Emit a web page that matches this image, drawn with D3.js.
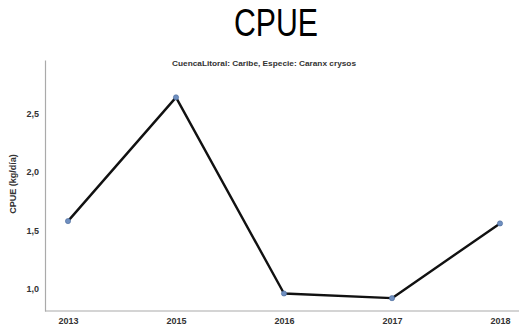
<!DOCTYPE html>
<html><head><meta charset="utf-8">
<script src="https://cdn.jsdelivr.net/npm/d3@7"></script>
<style>body{margin:0;background:#fff}svg{display:block}</style>
</head><body>
<script>
const years = ["2013","2015","2016","2017","2018"];
const cpue = [1.58, 2.64, 0.96, 0.92, 1.56];
const yTicks = [1.0, 1.5, 2.0, 2.5];
const title = "CPUE";
const subtitle = "CuencaLitoral: Caribe, Especie: Caranx crysos";
const yLabel = "CPUE (kg/día)";

const W = 519, H = 331;
const svg = d3.select("body").append("svg").attr("width", W).attr("height", H);

const x = d3.scalePoint().domain(years).range([68, 500]);
const y = d3.scaleLinear().domain([0.81, 2.96]).range([311, 60]);
const fmt = d => d3.format(".1f")(d).replace(".", ",");

svg.append("text").attr("x", 276).attr("y", 36).attr("text-anchor", "middle")
  .attr("font-family", "Liberation Sans, Arial, sans-serif").attr("font-size", 38)
  .attr("textLength", 84).attr("lengthAdjust", "spacingAndGlyphs")
  .attr("fill", "#000").text(title);

svg.append("text").attr("x", 264).attr("y", 66).attr("text-anchor", "middle")
  .attr("font-family", "Liberation Sans, Arial, sans-serif").attr("font-size", 7)
  .attr("font-weight", "bold").attr("fill", "#333")
  .attr("textLength", 184).attr("lengthAdjust", "spacingAndGlyphs").text(subtitle);

// axes
const yAxis = d3.axisLeft(y).tickValues(yTicks).tickFormat(fmt).tickSize(0).tickPadding(6);
const gy = svg.append("g").attr("transform", "translate(45,0)").call(yAxis);
gy.select(".domain").attr("stroke", "#aaa").attr("stroke-width", 1.2);
gy.selectAll("text").attr("font-family", "Liberation Sans, Arial, sans-serif")
  .attr("font-size", 9).attr("font-weight", "bold").attr("fill", "#333");

const xAxis = d3.axisBottom(x).tickSize(0).tickPadding(7);
const gx = svg.append("g").attr("transform", "translate(0,311)").call(xAxis);
gx.select(".domain").attr("stroke", "#aaa").attr("stroke-width", 1.2)
  .attr("d", "M45,0H519");
gx.selectAll("text").attr("font-family", "Liberation Sans, Arial, sans-serif")
  .attr("font-size", 9).attr("font-weight", "bold").attr("fill", "#333");

svg.append("text").attr("transform", "translate(16,184) rotate(-90)")
  .attr("text-anchor", "middle").attr("font-family", "Liberation Sans, Arial, sans-serif")
  .attr("font-size", 9).attr("font-weight", "bold").attr("fill", "#333").text(yLabel);

const data = years.map((yr, i) => ({yr, v: cpue[i]}));
svg.append("path").datum(data)
  .attr("d", d3.line().x(d => x(d.yr)).y(d => y(d.v)))
  .attr("fill", "none").attr("stroke", "#111").attr("stroke-width", 2.4)
  .attr("stroke-linejoin", "round");

svg.selectAll("circle.pt").data(data).join("circle").attr("class", "pt")
  .attr("cx", d => x(d.yr)).attr("cy", d => y(d.v)).attr("r", 2.6)
  .attr("fill", "#6f8fc0").attr("stroke", "#4a6a9a").attr("stroke-width", 0.6);
</script>
</body></html>
